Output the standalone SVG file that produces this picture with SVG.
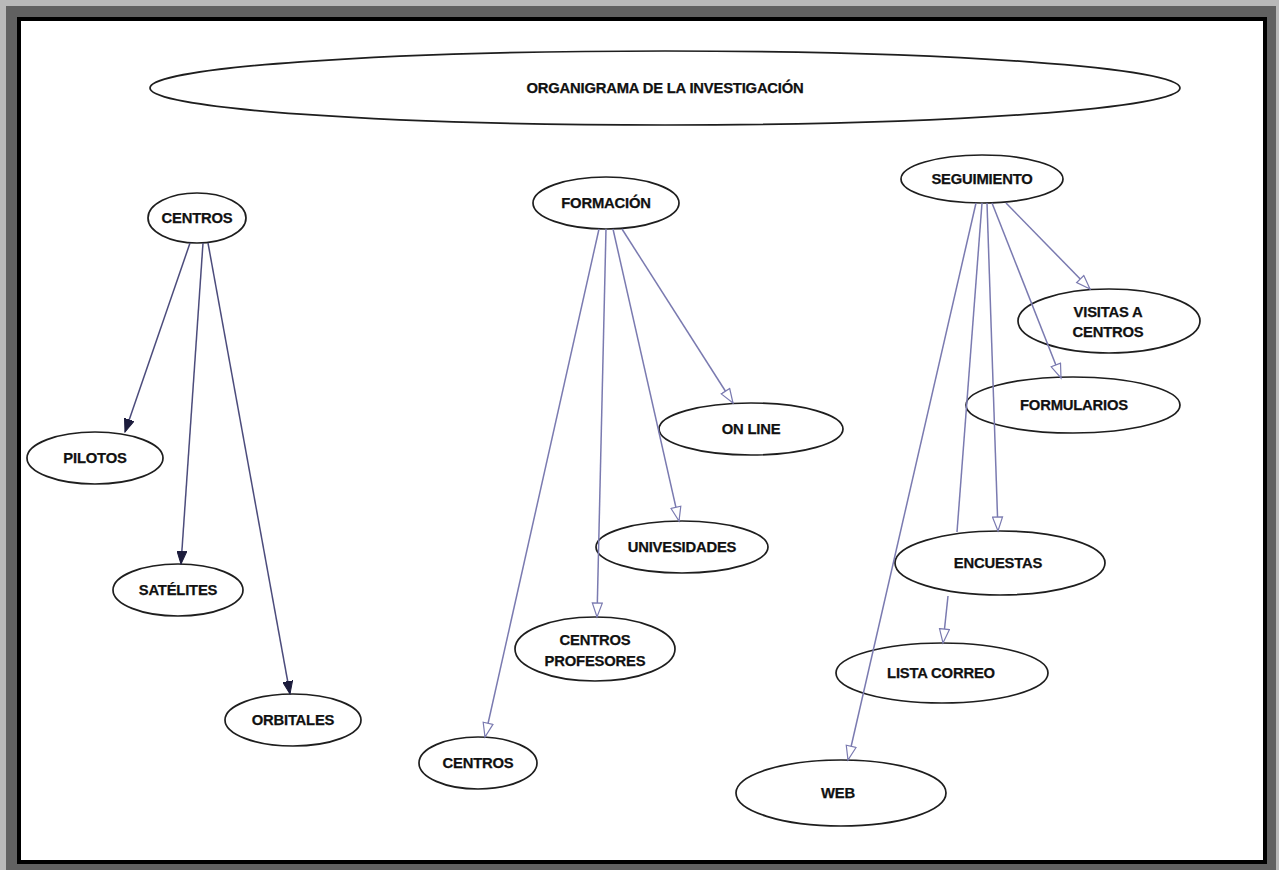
<svg xmlns="http://www.w3.org/2000/svg" width="1279" height="870" viewBox="0 0 1279 870">
<defs>
<style>
.node ellipse{fill:#fff;stroke:#1e1e1e;stroke-width:1.7}
.node text{font-family:"Liberation Sans",Arial,sans-serif;font-weight:bold;font-size:14.8px;fill:#111;text-anchor:middle;letter-spacing:-0.2px;stroke:#111;stroke-width:0.25}
.c1{fill:none;stroke:#4c4c7c;stroke-width:1.5;marker-end:url(#fa)}
.c2{fill:none;stroke:#7a7ab0;stroke-width:1.5;marker-end:url(#oa)}
</style>
<marker id="fa" markerUnits="userSpaceOnUse" markerWidth="14" markerHeight="10" refX="13" refY="5" orient="auto" viewBox="0 0 14 10">
<path d="M0,0 L13,5 L0,10 z" fill="#1c1c3c" stroke="#1c1c3c" stroke-width="1"/>
</marker>
<marker id="oa" markerUnits="userSpaceOnUse" markerWidth="17" markerHeight="12" refX="15" refY="6" orient="auto" viewBox="0 0 17 12">
<path d="M1,1 L15,6 L1,11 z" fill="#fff" stroke="#7a7ab0" stroke-width="1.2"/>
</marker>
</defs>
<rect x="0" y="0" width="1279" height="870" fill="#b9b9b9"/>
<rect x="6" y="6" width="1270" height="864" fill="#616161"/>
<rect x="17" y="17" width="1250" height="847" fill="#000"/>
<rect x="21" y="21" width="1242" height="839" fill="#fff"/>

<g id="nodes">
<g id="title" class="node"><ellipse cx="665" cy="88" rx="515" ry="37"/><text x="665" y="93">ORGANIGRAMA DE LA INVESTIGACIÓN</text></g>
<g id="centros" class="node"><ellipse cx="197" cy="218" rx="49" ry="25"/><text x="197" y="223">CENTROS</text></g>
<g id="pilotos" class="node"><ellipse cx="95" cy="458" rx="68" ry="26"/><text x="95" y="463">PILOTOS</text></g>
<g id="satelites" class="node"><ellipse cx="178" cy="590" rx="65" ry="26"/><text x="178" y="595">SATÉLITES</text></g>
<g id="orbitales" class="node"><ellipse cx="293" cy="720" rx="68" ry="26"/><text x="293" y="725">ORBITALES</text></g>
<g id="formacion" class="node"><ellipse cx="606" cy="203" rx="73" ry="26"/><text x="606" y="208">FORMACIÓN</text></g>
<g id="online" class="node"><ellipse cx="751" cy="429" rx="92" ry="26"/><text x="751" y="434">ON LINE</text></g>
<g id="univesidades" class="node"><ellipse cx="682" cy="547" rx="86" ry="26"/><text x="682" y="552">UNIVESIDADES</text></g>
<g id="centros-profesores" class="node"><ellipse cx="595" cy="649" rx="80" ry="32"/><text x="595" y="645">CENTROS</text><text x="595" y="666">PROFESORES</text></g>
<g id="centros2" class="node"><ellipse cx="478" cy="763" rx="59" ry="26"/><text x="478" y="768">CENTROS</text></g>
<g id="seguimiento" class="node"><ellipse cx="982" cy="179" rx="81" ry="24"/><text x="982" y="184">SEGUIMIENTO</text></g>
<g id="visitas" class="node"><ellipse cx="1109" cy="321" rx="91" ry="32"/><text x="1108" y="317">VISITAS A</text><text x="1108" y="337">CENTROS</text></g>
<g id="formularios" class="node"><ellipse cx="1073" cy="405" rx="107" ry="28"/><text x="1074" y="410">FORMULARIOS</text></g>
<g id="encuestas" class="node"><ellipse cx="1000" cy="563" rx="105" ry="32"/><text x="998" y="568">ENCUESTAS</text></g>
<g id="lista-correo" class="node"><ellipse cx="942" cy="673" rx="106" ry="30"/><text x="941" y="678">LISTA CORREO</text></g>
<g id="web" class="node"><ellipse cx="841" cy="793" rx="105" ry="33"/><text x="838" y="798">WEB</text></g>
</g>

<g id="connectors">
<path class="c1" d="M190,243 L125,432"/>
<path class="c1" d="M203,243 L181,564"/>
<path class="c1" d="M208,243 L290,694"/>
<path class="c2" d="M599,229 L485,737"/>
<path class="c2" d="M606,229 L597,617"/>
<path class="c2" d="M613,229 L679,521"/>
<path class="c2" d="M622,229 L733,403"/>
<path class="c2" d="M976,203 L848,760"/>
<path fill="none" stroke="#7a7ab0" stroke-width="1.5" d="M982,203 L957,532"/>
<path class="c2" d="M948,596 L943,643"/>
<path class="c2" d="M987,203 L998,531"/>
<path class="c2" d="M992,203 L1061,378"/>
<path class="c2" d="M1006,203 L1090,289"/>
</g>
</svg>
